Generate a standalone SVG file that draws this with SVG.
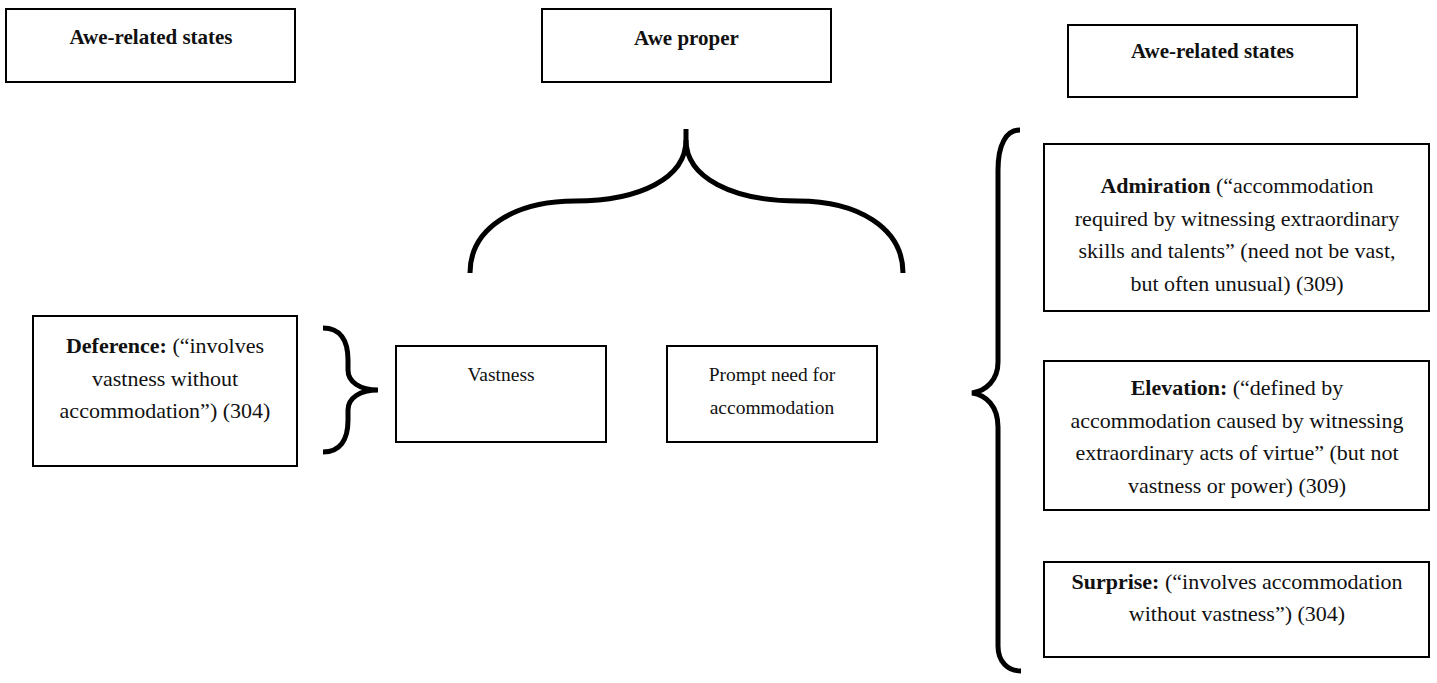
<svg xmlns="http://www.w3.org/2000/svg" width="1437" height="683" viewBox="0 0 1437 683">
<style>
.box{fill:#fff;stroke:#000;stroke-width:2}
.br{fill:none;stroke:#000;stroke-width:5;stroke-linecap:butt}
text{font-family:"Liberation Serif","Times New Roman",serif;font-size:22px;fill:#111;text-anchor:middle}
.h{font-weight:bold;font-size:21px}
.m{font-size:19.5px}
.b{font-weight:bold}
</style>
<rect width="1437" height="683" fill="#fff"/>
<g id="connectors">
<path class="br" d="M470,273 C470,228 515,201 575,201 C640,201 686,178 686,140 L686,129"/>
<path class="br" d="M903,273 C903,228 858,201 798,201 C733,201 686,178 686,140"/>
<path class="br" d="M323,328 C340,328 348,340 348,360 L348,370 C348,382 360,390 378,390 C360,390 348,398 348,410 L348,420 C348,440 340,452 323,452"/>
<path class="br" d="M1020,130 C1006,130 998,145 998,170 L998,362 C998,380 986,391 972,393 C986,395 998,406 998,427 L998,646 C998,662 1008,671 1021,671"/>
</g>
<g id="awe-related-left">
<rect class="box" x="6" y="9" width="289" height="73"/>
<text class="h" x="151" y="44">Awe-related states</text>
</g>
<g id="awe-proper">
<rect class="box" x="542" y="9" width="289" height="73"/>
<text class="h" x="686.5" y="45">Awe proper</text>
</g>
<g id="awe-related-right">
<rect class="box" x="1068" y="25" width="289" height="72"/>
<text class="h" x="1212.5" y="58">Awe-related states</text>
</g>
<g id="deference">
<rect class="box" x="33" y="316" width="264" height="150"/>
<text x="165" y="353"><tspan class="b">Deference:</tspan> (“involves</text>
<text x="165" y="385.5">vastness without</text>
<text x="165" y="418">accommodation”) (304)</text>
</g>
<g id="vastness">
<rect class="box" x="396" y="346" width="210" height="96"/>
<text class="m" x="501" y="381">Vastness</text>
</g>
<g id="prompt">
<rect class="box" x="667" y="346" width="210" height="96"/>
<text class="m" x="772" y="381">Prompt need for</text>
<text class="m" x="772" y="413.5">accommodation</text>
</g>
<g id="admiration">
<rect class="box" x="1044" y="144" width="385" height="167"/>
<text x="1237" y="193"><tspan class="b">Admiration</tspan> (“accommodation</text>
<text x="1237" y="225.7">required by witnessing extraordinary</text>
<text x="1237" y="258.3">skills and talents” (need not be vast,</text>
<text x="1237" y="291">but often unusual) (309)</text>
</g>
<g id="elevation">
<rect class="box" x="1044" y="361" width="385" height="149"/>
<text x="1237" y="395"><tspan class="b">Elevation:</tspan> (“defined by</text>
<text x="1237" y="427.7">accommodation caused by witnessing</text>
<text x="1237" y="460.3">extraordinary acts of virtue” (but not</text>
<text x="1237" y="493">vastness or power) (309)</text>
</g>
<g id="surprise">
<rect class="box" x="1044" y="562" width="385" height="95"/>
<text x="1237" y="588.5"><tspan class="b">Surprise:</tspan> (“involves accommodation</text>
<text x="1237" y="621">without vastness”) (304)</text>
</g>
</svg>
